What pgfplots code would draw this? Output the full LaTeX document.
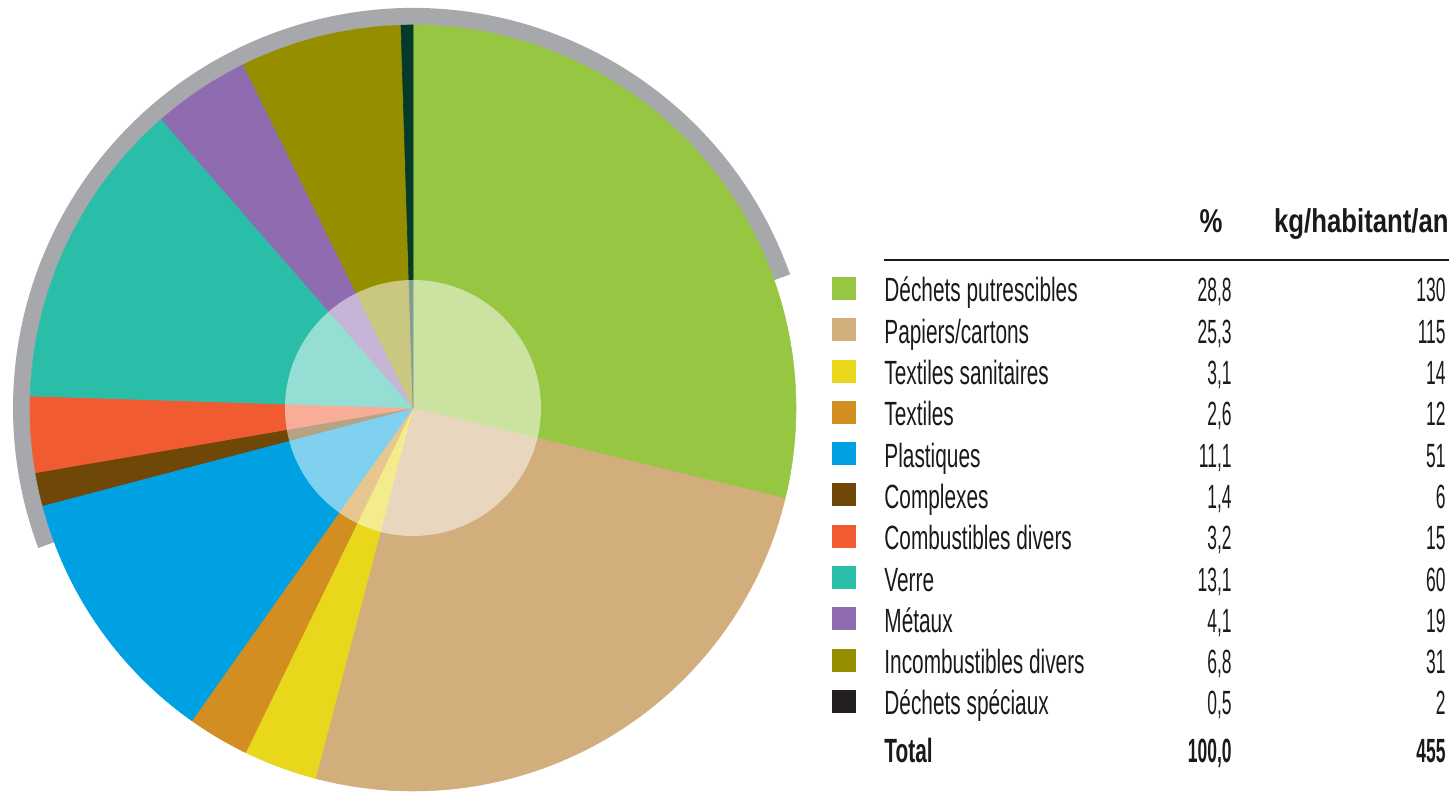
\documentclass[border=0pt]{standalone}
\usepackage{fontspec}
\setmainfont{Liberation Sans}
\newfontfamily\lblfont[FakeStretch=0.62]{Liberation Sans}
\newfontfamily\numfont[FakeStretch=0.52]{Liberation Sans}
\newfontfamily\hdrfont[FakeStretch=0.78]{Liberation Sans}
\usepackage{pgfplots}
\usepackage{pgfplotstable}
\pgfplotsset{compat=1.18}

% slice colours, same order as the table
\definecolor{slice0}{HTML}{97C643}
\definecolor{slice1}{HTML}{D3AE7D}
\definecolor{slice2}{HTML}{E8D71A}
\definecolor{slice3}{HTML}{D28E20}
\definecolor{slice4}{HTML}{00A1E2}
\definecolor{slice5}{HTML}{6F4707}
\definecolor{slice6}{HTML}{F15B31}
\definecolor{slice7}{HTML}{2ABDA8}
\definecolor{slice8}{HTML}{8F6CAF}
\definecolor{slice9}{HTML}{958F00}
\definecolor{slice10}{HTML}{053A2B}
\colorlet{key0}{slice0}\colorlet{key1}{slice1}\colorlet{key2}{slice2}
\colorlet{key3}{slice3}\colorlet{key4}{slice4}\colorlet{key5}{slice5}
\colorlet{key6}{slice6}\colorlet{key7}{slice7}\colorlet{key8}{slice8}
\colorlet{key9}{slice9}\definecolor{key10}{HTML}{231F20}
\definecolor{ringgray}{HTML}{A7A8AC}
\definecolor{txt}{HTML}{1A1A1A}

\pgfplotstableread[col sep=comma]{
name,pct,kg
Déchets putrescibles,28.8,130
Papiers/cartons,25.3,115
Textiles sanitaires,3.1,14
Textiles,2.6,12
Plastiques,11.1,51
Complexes,1.4,6
Combustibles divers,3.2,15
Verre,13.1,60
Métaux,4.1,19
Incombustibles divers,6.8,31
Déchets spéciaux,0.5,2
}\wastetable

\pgfkeys{/pgf/number format/.cd, use comma, fixed, fixed zerofill, precision=1, assume math mode=true}

\begin{document}
\begin{tikzpicture}
\begin{axis}[hide axis, x=0.5pt, y=0.5pt,
  xmin=-400, xmax=400, ymin=-400, ymax=400,
  anchor=center, at={(206.5pt,192pt)}, clip=false]
\pgfplotsextra{%
  % grey arc round the top half
  \draw[ringgray, line width=8.5pt] (axis cs:0,0) ++(19.5:195.75pt)
    arc[start angle=19.5, end angle=200.5, radius=195.75pt];
  \def\cum{0}%
  \pgfplotsforeachungrouped \i in {0,...,10}{%
    \pgfplotstablegetelem{\i}{pct}\of\wastetable
    \let\p\pgfplotsretval
    \pgfmathsetmacro\aS{90-3.6*\cum}%
    \pgfmathsetmacro\aE{90-3.6*(\cum+\p)}%
    \fill[fill=slice\i, draw=slice\i, line width=0.3pt]
      (axis cs:0,0) -- ++(\aS:191.5pt)
      arc[start angle=\aS, end angle=\aE, radius=191.5pt] -- cycle;
    \pgfmathsetmacro\cum{\cum+\p}%
  }%
  \fill[white, fill opacity=0.5] (axis cs:0,0) circle[radius=64pt];
}
\end{axis}

% table on the right
\begin{scope}[every node/.style={inner sep=0pt, text=txt, font=\fontsize{16.8}{18}\selectfont}]
\node[anchor=base east, font=\fontsize{16.5}{18}\selectfont\hdrfont\bfseries] at (611.5pt,279.5pt) {\%};
\node[anchor=base east, font=\fontsize{16.5}{18}\selectfont\hdrfont\bfseries] at (724.5pt,279.5pt) {kg/habitant/an};
\draw[txt, line width=1.3pt] (442pt,266pt) -- (724.5pt,266pt);
\pgfplotsforeachungrouped \i in {0,...,10}{%
  \pgfmathsetmacro\yb{245-20.65*\i}%
  \pgfplotstablegetelem{\i}{name}\of\wastetable \let\nm\pgfplotsretval
  \pgfplotstablegetelem{\i}{pct}\of\wastetable \let\pc\pgfplotsretval
  \pgfplotstablegetelem{\i}{kg}\of\wastetable \let\kg\pgfplotsretval
  \fill[key\i] (416pt,\yb pt+1pt) rectangle (428pt,\yb pt+12.5pt);
  \node[anchor=base west, font=\fontsize{16.8}{18}\selectfont\lblfont] at (442pt,\yb pt) {\nm};
  \node[anchor=base east, font=\fontsize{16.8}{18}\selectfont\numfont] at (616pt,\yb pt) {\pgfmathprintnumber{\pc}};
  \node[anchor=base east, font=\fontsize{16.8}{18}\selectfont\numfont] at (723pt,\yb pt) {\kg};
}
\node[anchor=base west, font=\fontsize{16.8}{18}\selectfont\lblfont\bfseries] at (442pt,14.5pt) {Total};
\node[anchor=base east, font=\fontsize{16.8}{18}\selectfont\numfont\bfseries] at (616pt,14.5pt) {100,0};
\node[anchor=base east, font=\fontsize{16.8}{18}\selectfont\numfont\bfseries] at (723pt,14.5pt) {455};
\end{scope}

\pgfresetboundingbox
\path (0,0) rectangle (726.5pt,396pt);
\end{tikzpicture}
\end{document}
